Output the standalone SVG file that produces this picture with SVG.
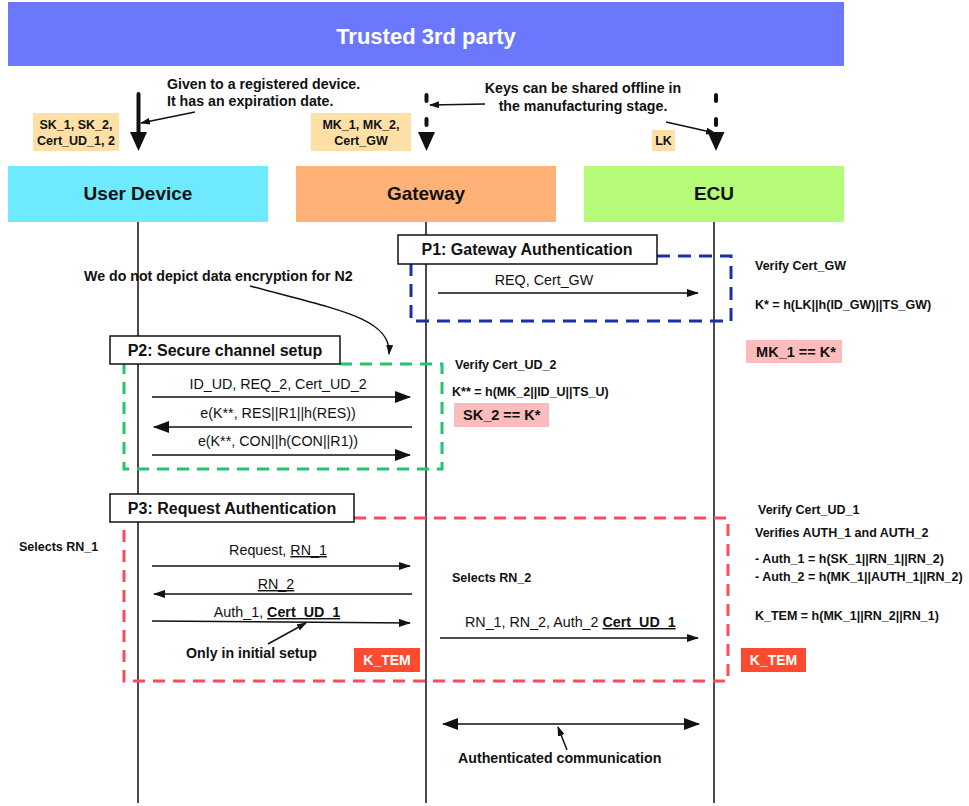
<svg xmlns="http://www.w3.org/2000/svg" width="969" height="806" viewBox="0 0 969 806">
<defs>
<style>
text{font-family:"Liberation Sans",Arial,Helvetica,sans-serif;fill:#111}
.hdr{font-size:19px;font-weight:bold;text-anchor:middle}
.ph{font-size:16px;font-weight:bold;text-anchor:middle}
.msg{font-size:14.3px}
.c{text-anchor:middle}
.note{font-size:12.5px;font-weight:bold}
.ann{font-size:14.2px;font-weight:bold}
.key{font-size:12.5px;font-weight:bold;text-anchor:middle}
.life{stroke:#111;stroke-width:1.5;fill:none}
.m{stroke:#111;stroke-width:1.5;fill:none}
.pbox{fill:#fff;stroke:#111;stroke-width:1.5}
.kt{fill:#fe4a2e}
.ktt{font-size:14px;font-weight:bold;fill:#fff;text-anchor:middle}
.pink{fill:#fbbcbd}
.keybox{fill:#fee0a7}
.eq{font-size:14.5px;font-weight:bold}
</style>
<marker id="ah" viewBox="0 0 16 12" refX="15" refY="6" markerWidth="16" markerHeight="12" markerUnits="userSpaceOnUse" orient="auto"><path d="M0,0 L16,6 L0,12 Z" fill="#111"/></marker>
<marker id="as" viewBox="0 0 12 8" refX="11" refY="4" markerWidth="12" markerHeight="8" markerUnits="userSpaceOnUse" orient="auto"><path d="M0,0 L12,4 L0,8 Z" fill="#111"/></marker>
<marker id="at" viewBox="0 0 10 7" refX="9" refY="3.5" markerWidth="10" markerHeight="7" markerUnits="userSpaceOnUse" orient="auto"><path d="M0,0 L10,3.5 L0,7 Z" fill="#111"/></marker>
<marker id="ab" viewBox="0 0 16 12" refX="15" refY="6" markerWidth="16" markerHeight="12" markerUnits="userSpaceOnUse" orient="auto-start-reverse"><path d="M0,0 L16,6 L0,12 Z" fill="#111"/></marker>
</defs>
<rect width="969" height="806" fill="#fff"/>

<g id="title">
<rect x="8" y="2" width="836" height="64" fill="#6b78fe"/>
<text x="426" y="44" font-size="22" font-weight="bold" text-anchor="middle" style="fill:#fff">Trusted 3rd party</text>
</g>

<g id="lifelines">
<line class="life" x1="138" y1="222" x2="138" y2="803"/>
<line class="life" x1="426" y1="222" x2="426" y2="803"/>
<line class="life" x1="714" y1="222" x2="714" y2="803"/>
</g>

<g id="user-device">
<rect x="8" y="166" width="260" height="56" fill="#6fe9fd"/>
<text class="hdr" x="138" y="200">User Device</text>
</g>
<g id="gateway">
<rect x="296" y="166" width="260" height="56" fill="#ffb278"/>
<text class="hdr" x="426" y="200">Gateway</text>
</g>
<g id="ecu">
<rect x="584" y="166" width="260" height="56" fill="#b5fb78"/>
<text class="hdr" x="714" y="200">ECU</text>
</g>

<g id="key-provisioning">
<line x1="138.5" y1="94" x2="138.5" y2="133" stroke="#111" stroke-width="4" stroke-linecap="round"/>
<path d="M130,132 L147,132 L138.5,151 Z" fill="#111"/>
<line x1="426.5" y1="95" x2="426.5" y2="101" stroke="#111" stroke-width="4" stroke-linecap="round"/>
<line x1="426.5" y1="119" x2="426.5" y2="125" stroke="#111" stroke-width="4" stroke-linecap="round"/>
<path d="M418,132 L435,132 L426.5,151 Z" fill="#111"/>
<line x1="716" y1="95" x2="716" y2="101" stroke="#111" stroke-width="4" stroke-linecap="round"/>
<line x1="716" y1="119" x2="716" y2="125" stroke="#111" stroke-width="4" stroke-linecap="round"/>
<path d="M707.5,132 L724.5,132 L716,151 Z" fill="#111"/>
</g>

<g id="keys-ud">
<rect class="keybox" x="33" y="113" width="86" height="38"/>
<text class="key" x="76" y="129">SK_1, SK_2,</text>
<text class="key" x="76" y="145">Cert_UD_1, 2</text>
</g>
<g id="keys-gw">
<rect class="keybox" x="311" y="113" width="100" height="38"/>
<text class="key" x="361" y="129">MK_1, MK_2,</text>
<text class="key" x="361" y="145">Cert_GW</text>
</g>
<g id="keys-ecu">
<rect class="keybox" x="652" y="130" width="23" height="21"/>
<text class="key" x="663.5" y="145">LK</text>
</g>

<g id="annotations">
<text class="ann" x="167" y="89">Given to a registered device.</text>
<text class="ann" x="167" y="106">It has an expiration date.</text>
<text class="ann c" x="583" y="93">Keys can be shared offline in</text>
<text class="ann c" x="583" y="111">the manufacturing stage.</text>
<text class="ann" x="84" y="281">We do not depict data encryption for N2</text>
<text class="ann" x="186" y="658">Only in initial setup</text>
<text class="ann" x="458" y="763">Authenticated communication</text>
</g>

<g id="p1">
<path d="M657,256 H731 V321 H411 V264" fill="none" stroke="#1b2fa6" stroke-width="3" stroke-dasharray="13,8"/>
<rect class="pbox" x="398" y="235" width="259" height="29"/>
<text class="ph" x="527" y="255">P1: Gateway Authentication</text>
<text class="msg c" x="544" y="285">REQ, Cert_GW</text>
<text class="note" x="755" y="270">Verify Cert_GW</text>
<text class="note" x="755" y="309">K* = h(LK||h(ID_GW)||TS_GW)</text>
<rect class="pink" x="746" y="340" width="96" height="23"/>
<text class="eq c" x="796" y="357">MK_1 == K*</text>
</g>

<g id="p2">
<path d="M340,364 H442 V469 H124 V364" fill="none" stroke="#22c46e" stroke-width="3" stroke-dasharray="12,8"/>
<rect class="pbox" x="110" y="336" width="230" height="28"/>
<text class="ph" x="225" y="356">P2: Secure channel setup</text>
<text class="msg c" x="278" y="389">ID_UD, REQ_2, Cert_UD_2</text>
<text class="msg c" x="278" y="418">e(K**, RES||R1||h(RES))</text>
<text class="msg c" x="278" y="446">e(K**, CON||h(CON||R1))</text>
<text class="note" x="455" y="369">Verify Cert_UD_2</text>
<text class="note" x="452" y="396">K** = h(MK_2||ID_U||TS_U)</text>
<rect class="pink" x="454" y="403" width="95" height="24"/>
<text class="eq" x="463" y="420">SK_2 == K*</text>
</g>

<g id="p3">
<path d="M354,518 H728 V681 H124 V523" fill="none" stroke="#fe4a5a" stroke-width="3" stroke-dasharray="12,8"/>
<rect class="pbox" x="110" y="494" width="244" height="28"/>
<text class="ph" x="232" y="514">P3: Request Authentication</text>
<text class="note" x="19" y="551">Selects RN_1</text>
<text class="msg c" x="278" y="555">Request, <tspan text-decoration="underline">RN_1</tspan></text>
<text class="msg c" x="276" y="589" text-decoration="underline">RN_2</text>
<text class="msg c" x="277" y="617">Auth_1, <tspan font-weight="bold" text-decoration="underline">Cert_UD_1</tspan></text>
<text class="note" x="452" y="582">Selects RN_2</text>
<text class="msg" x="465" y="627">RN_1, RN_2, Auth_2 <tspan font-weight="bold" text-decoration="underline">Cert_UD_1</tspan></text>
<text class="note" x="758" y="514">Verify Cert_UD_1</text>
<text class="note" x="755" y="537">Verifies AUTH_1 and AUTH_2</text>
<text class="note" x="755" y="563">- Auth_1 = h(SK_1||RN_1||RN_2)</text>
<text class="note" x="755" y="581">- Auth_2 = h(MK_1||AUTH_1||RN_2)</text>
<text class="note" x="755" y="620">K_TEM = h(MK_1||RN_2||RN_1)</text>
</g>
<g id="ktem-gw">
<rect class="kt" x="354" y="648" width="66" height="24"/>
<text class="ktt" x="387" y="665">K_TEM</text>
</g>
<g id="ktem-ecu">
<rect class="kt" x="741" y="648" width="65" height="24"/>
<text class="ktt" x="773.5" y="665">K_TEM</text>
</g>

<g id="connectors">
<line class="m" x1="195" y1="112" x2="141" y2="123" marker-end="url(#at)"/>
<line class="m" x1="485" y1="104" x2="430" y2="105" marker-end="url(#at)"/>
<line class="m" x1="666" y1="122" x2="715" y2="133" marker-end="url(#at)"/>
<path class="m" d="M250,286 C335,309 392,318 389,354" marker-end="url(#at)"/>
<line class="m" x1="438" y1="293" x2="698" y2="293" marker-end="url(#as)"/>
<line class="m" x1="152" y1="397" x2="410" y2="397" marker-end="url(#ah)"/>
<line class="m" x1="412" y1="427" x2="154" y2="427" marker-end="url(#ah)"/>
<line class="m" x1="152" y1="455" x2="410" y2="455" marker-end="url(#ah)"/>
<line class="m" x1="152" y1="566" x2="410" y2="566" marker-end="url(#as)"/>
<line class="m" x1="412" y1="594" x2="154" y2="594" marker-end="url(#as)"/>
<line class="m" x1="152" y1="621" x2="410" y2="623" marker-end="url(#as)"/>
<line class="m" x1="268" y1="644" x2="306" y2="623" marker-end="url(#at)"/>
<line class="m" x1="440" y1="638" x2="698" y2="638" marker-end="url(#as)"/>
<line class="m" x1="443" y1="724" x2="699" y2="724" marker-start="url(#ab)" marker-end="url(#ab)"/>
<line class="m" x1="567" y1="750" x2="558" y2="727" marker-end="url(#at)"/>
</g>
</svg>
